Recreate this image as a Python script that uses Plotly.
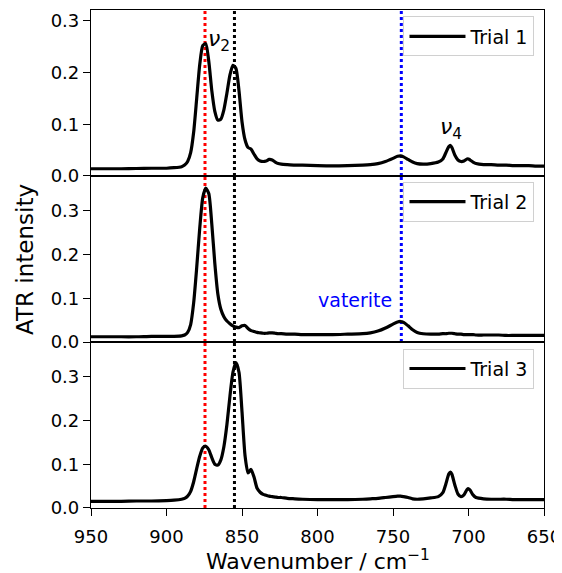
import plotly.graph_objects as go
from plotly.subplots import make_subplots

wavenumber = [950, 940, 930, 920, 910, 900, 895, 890, 888, 886, 884, 882, 880, 878, 876, 874,
              872, 870, 868, 866, 864, 862, 860, 858, 856, 854, 852, 850, 848, 846, 844, 842,
              840, 838, 836, 834, 832, 830, 828, 826, 824, 820, 815, 810, 800, 790, 780, 770,
              765, 760, 755, 750, 747, 745, 743, 740, 737, 734, 730, 725, 720, 717, 715, 713,
              712, 711, 709, 707, 705, 703, 701, 700, 699, 697, 695, 690, 685, 680, 675, 670,
              665, 660, 655, 650]

trial1 = [0.014, 0.014, 0.014, 0.0145, 0.015, 0.015, 0.016, 0.018, 0.021, 0.028, 0.045, 0.085,
          0.150, 0.215, 0.252, 0.256, 0.222, 0.165, 0.125, 0.108, 0.110, 0.128, 0.160, 0.195,
          0.214, 0.208, 0.165, 0.105, 0.070, 0.055, 0.052, 0.042, 0.033, 0.029, 0.028, 0.029,
          0.032, 0.031, 0.027, 0.024, 0.023, 0.022, 0.021, 0.021, 0.020, 0.0195, 0.020, 0.021,
          0.022, 0.024, 0.028, 0.034, 0.038, 0.039, 0.037, 0.032, 0.027, 0.024, 0.023, 0.024,
          0.027, 0.033, 0.045, 0.057, 0.059, 0.055, 0.040, 0.031, 0.028, 0.029, 0.033, 0.033,
          0.031, 0.027, 0.024, 0.022, 0.022, 0.021, 0.021, 0.020, 0.020, 0.020, 0.019, 0.019]

trial2 = [0.012, 0.012, 0.012, 0.012, 0.013, 0.013, 0.013, 0.014, 0.016, 0.022, 0.040, 0.090,
          0.170, 0.260, 0.330, 0.352, 0.340, 0.270, 0.180, 0.110, 0.075, 0.058, 0.048, 0.042,
          0.037, 0.034, 0.033, 0.037, 0.038, 0.031, 0.026, 0.024, 0.022, 0.021, 0.020, 0.020,
          0.021, 0.021, 0.020, 0.019, 0.019, 0.018, 0.018, 0.017, 0.017, 0.017, 0.018, 0.019,
          0.021, 0.025, 0.032, 0.041, 0.046, 0.047, 0.045, 0.037, 0.028, 0.022, 0.019, 0.018,
          0.018, 0.019, 0.019, 0.020, 0.020, 0.020, 0.019, 0.018, 0.018, 0.017, 0.017, 0.017,
          0.017, 0.017, 0.016, 0.016, 0.016, 0.016, 0.015, 0.015, 0.015, 0.015, 0.015, 0.015]

trial3 = [0.015, 0.015, 0.015, 0.016, 0.016, 0.017, 0.018, 0.020, 0.022, 0.027, 0.038, 0.060,
          0.090, 0.118, 0.137, 0.141, 0.133, 0.115, 0.100, 0.098, 0.110, 0.140, 0.190, 0.255,
          0.310, 0.332, 0.310, 0.220, 0.120, 0.080, 0.088, 0.070, 0.045, 0.036, 0.031, 0.029,
          0.027, 0.026, 0.025, 0.024, 0.024, 0.022, 0.021, 0.020, 0.019, 0.019, 0.019, 0.020,
          0.021, 0.022, 0.024, 0.026, 0.027, 0.027, 0.026, 0.024, 0.021, 0.020, 0.021, 0.023,
          0.026, 0.035, 0.055, 0.078, 0.082, 0.077, 0.052, 0.032, 0.026, 0.030, 0.042, 0.044,
          0.041, 0.030, 0.024, 0.021, 0.020, 0.020, 0.020, 0.019, 0.019, 0.019, 0.019, 0.019]

trial_names = ["Trial 1", "Trial 2", "Trial 3"]
x_ticks = [950, 900, 850, 800, 750, 700, 650]
y_ticks = [0.0, 0.1, 0.2, 0.3]
calcite_nu2 = 874.5
aragonite_nu2 = 855.0
vaterite_line = 744.5

FONT = "DejaVu Sans"

fig = make_subplots(rows=3, cols=1, shared_xaxes=True, vertical_spacing=0)

y_ranges = [[0, 0.321], [0, 0.38], [0, 0.379]]
domains = [[0.6667, 1.0], [0.3333, 0.6667], [0.0, 0.3333]]

# vertical reference lines (drawn first, beneath the spectra)
for i in range(3):
    r = i + 1
    lines = [(calcite_nu2, "#ff0000"), (aragonite_nu2, "black")]
    if i < 2:
        lines.append((vaterite_line, "#0000ff"))
    for xv, col in lines:
        fig.add_trace(go.Scatter(x=[xv, xv], y=[0, y_ranges[i][1]], mode="lines",
                                 line=dict(color=col, width=3, dash="dot"),
                                 showlegend=False, hoverinfo="skip"), row=r, col=1)

series = [trial1, trial2, trial3]
legends = ["legend", "legend2", "legend3"]
for i, (name, ys) in enumerate(zip(trial_names, series)):
    fig.add_trace(go.Scatter(x=wavenumber, y=ys, mode="lines", name=name,
                             line=dict(color="black", width=3.2, shape="spline", smoothing=0.6),
                             legend=legends[i], showlegend=True),
                  row=i + 1, col=1)

for i in range(3):
    r = i + 1
    fig.update_yaxes(range=y_ranges[i], domain=domains[i], tickvals=y_ticks,
                     ticktext=[f"{v:.1f}" for v in y_ticks],
                     showline=True, mirror=True, linecolor="black", linewidth=1.2,
                     ticks="outside", ticklen=7, tickwidth=1.2, tickcolor="black",
                     showgrid=False, zeroline=False,
                     tickfont=dict(family=FONT, size=18, color="black"), row=r, col=1)
    fig.update_xaxes(range=[950, 650], tickvals=x_ticks,
                     showline=True, mirror=True, linecolor="black", linewidth=1.2,
                     ticks="outside" if r == 3 else "", ticklen=7, tickwidth=1.2,
                     tickcolor="black", showgrid=False, zeroline=False,
                     showticklabels=(r == 3), ticklabeloverflow="allow",
                     ticklabelstandoff=5,
                     tickfont=dict(family=FONT, size=18, color="black"), row=r, col=1)

leg_style = dict(bgcolor="rgba(255,255,255,0.8)", bordercolor="#d0d0d0", borderwidth=1,
                 font=dict(family=FONT, size=19, color="black"), itemwidth=56,
                 xanchor="right", yanchor="top", x=0.979)

# The page body keeps its default 8px margin; margins compensate so the plot area
# sits where the reference has it.
fig.update_layout(
    width=554, height=573,
    margin=dict(l=83, r=18, t=2, b=73),
    paper_bgcolor="white", plot_bgcolor="white",
    font=dict(family=FONT, color="black"),
    legend=dict(**leg_style, y=0.987),
    legend2=dict(**leg_style, y=0.655),
    legend3=dict(**leg_style, y=0.320),
)

fig.add_annotation(x=865.5, y=0.262, xref="x", yref="y", text="<i>ν</i><sub>2</sub>",
                   showarrow=False, font=dict(family=FONT, size=22, color="black"))
fig.add_annotation(x=711.5, y=0.092, xref="x", yref="y", text="<i>ν</i><sub>4</sub>",
                   showarrow=False, font=dict(family=FONT, size=22, color="black"))
fig.add_annotation(x=749.5, y=0.0955, xref="x2", yref="y2", text="vaterite",
                   xanchor="right", yanchor="middle", showarrow=False,
                   font=dict(family=FONT, size=19, color="#0000ff"))
fig.add_annotation(x=-0.1457, y=0.5, xref="paper", yref="paper", text="ATR intensity",
                   textangle=-90, xanchor="center", yanchor="middle", showarrow=False,
                   font=dict(family=FONT, size=23, color="black"))
fig.add_annotation(x=0.5, y=-0.1040, xref="paper", yref="paper",
                   text="Wavenumber / cm<sup>−1</sup>", xanchor="center", yanchor="middle",
                   showarrow=False, font=dict(family=FONT, size=22, color="black"))

fig.write_html("out.html")
